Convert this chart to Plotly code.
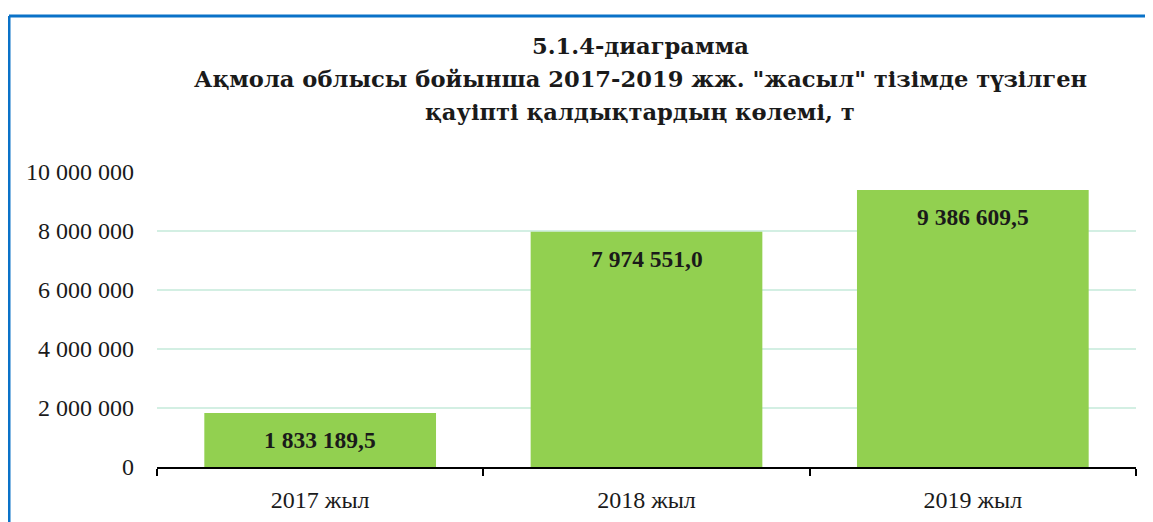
import plotly.graph_objects as go

categories = ["2017 жыл", "2018 жыл", "2019 жыл"]
values = [1833189.5, 7974551.0, 9386609.5]
y_ticks = [0, 2000000, 4000000, 6000000, 8000000, 10000000]
title_lines = ["5.1.4-диаграмма",
               "Ақмола облысы бойынша 2017-2019 жж. \"жасыл\" тізімде түзілген",
               "қауіпті қалдықтардың көлемі, т"]

# page body has an 8px margin; compensate so the plot lands where the reference has it
OFF = 8
W, H = 1153, 522
plot_left, plot_right, plot_top, plot_bottom = 157, 1136, 172, 467
L, T = plot_left - OFF, plot_top - OFF
pw, ph = plot_right - plot_left, plot_bottom - plot_top
R, B = W - L - pw, H - T - ph


def px_x(x):
    return (x - plot_left) / pw


def px_y(y):
    return (plot_bottom - y) / ph


fig = go.Figure()
fig.add_trace(go.Bar(
    x=categories, y=values,
    marker=dict(color="#92D050", line=dict(width=0)),
    width=0.71,
    showlegend=False,
    hoverinfo="x+y",
))

for c, v in zip(categories, values):
    fig.add_annotation(
        x=c, y=v, xref="x", yref="y",
        text="<b>" + f"{v:,.1f}".replace(",", " ").replace(".", ",") + "</b>",
        showarrow=False, yanchor="middle", yshift=-27,
        font=dict(family="Liberation Serif", size=23.5, color="#1a1a1a"),
    )

# title, one annotation per line for exact spacing
for line, yc in zip(title_lines, [46, 79, 112]):
    fig.add_annotation(
        x=px_x(640), y=px_y(yc), xref="paper", yref="paper",
        xanchor="center", yanchor="middle",
        text="<b>" + line + "</b>",
        showarrow=False,
        font=dict(family="DejaVu Serif", size=22.6, color="#1a1a1a"),
    )

# blue frame (left and top)
x_left = px_x(9)
y_top = px_y(16)
fig.add_shape(type="line", xref="paper", yref="paper",
              x0=x_left, x1=x_left, y0=-1, y1=y_top,
              line=dict(color="#0A72C8", width=3))
fig.add_shape(type="line", xref="paper", yref="paper",
              x0=x_left, x1=2, y0=y_top, y1=y_top,
              line=dict(color="#0A72C8", width=3))

fig.update_layout(
    width=W, height=H,
    margin=dict(l=L, r=R, t=T, b=B, autoexpand=False),
    paper_bgcolor="white", plot_bgcolor="white",
    separators=", ",
    xaxis=dict(
        showline=True, linecolor="#000000", linewidth=1.5,
        ticks="outside", ticklen=7, tickcolor="#000000", tickwidth=1.5,
        tickson="boundaries",
        tickfont=dict(family="Liberation Serif", size=24, color="#1a1a1a"),
        ticklabelstandoff=10,
        showgrid=False,
    ),
    yaxis=dict(
        range=[0, 10000000],
        tickvals=y_ticks,
        tickformat=",d",
        showgrid=True, gridcolor="#d3efe3", gridwidth=1.5,
        zeroline=False, showline=False,
        tickfont=dict(family="Liberation Serif", size=24, color="#1a1a1a"),
        ticklabelstandoff=22,
    ),
)

fig.write_html("out.html")
